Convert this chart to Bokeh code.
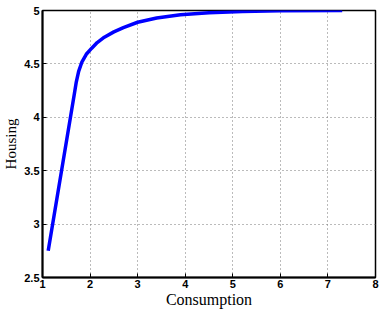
from bokeh.plotting import figure
from bokeh.models import Range1d, FixedTicker
from bokeh.embed import file_html
from bokeh.resources import INLINE

consumption = [1.12, 1.67, 1.71, 1.76, 1.83, 1.92, 2.03, 2.15, 2.3, 2.5, 2.7, 3.0,
               3.4, 3.9, 4.5, 5.2, 6.0, 7.3]
housing = [2.75, 4.22, 4.33, 4.43, 4.52, 4.59, 4.645, 4.70, 4.75, 4.80, 4.84, 4.89,
           4.93, 4.96, 4.98, 4.99, 4.997, 5.0]
x_ticks = [1, 2, 3, 4, 5, 6, 7, 8]
y_ticks = [2.5, 3, 3.5, 4, 4.5, 5]

p = figure(width=380, height=310, output_backend="svg", toolbar_location=None,
           x_range=Range1d(1, 8), y_range=Range1d(2.5, 5),
           min_border_left=34, min_border_right=5, min_border_top=10, min_border_bottom=31)

p.line(consumption, housing, line_color="#0000ff", line_width=3.5)

for ax in (p.xaxis[0], p.yaxis[0]):
    ax.major_tick_in = 4
    ax.major_tick_out = 0
    ax.minor_tick_line_color = None
    ax.axis_line_width = 2
    ax.axis_line_color = "black"
    ax.major_tick_line_color = "black"
    ax.major_tick_line_width = 1
    ax.major_label_text_font = "Liberation Sans"
    ax.major_label_text_font_style = "bold"
    ax.major_label_text_font_size = "11px"
    ax.major_label_text_color = "black"
    ax.axis_label_text_font = "Liberation Serif"
    ax.axis_label_text_font_style = "normal"
    ax.axis_label_text_color = "black"

p.xaxis[0].ticker = FixedTicker(ticks=x_ticks)
p.yaxis[0].ticker = FixedTicker(ticks=y_ticks)
p.xaxis[0].axis_label = "Consumption"
p.yaxis[0].axis_label = "Housing"
p.xaxis[0].axis_label_text_font_size = "16px"
p.yaxis[0].axis_label_text_font_size = "15px"
p.xaxis[0].major_label_standoff = 2
p.yaxis[0].major_label_standoff = 3
p.xaxis[0].axis_label_standoff = 0
p.yaxis[0].axis_label_standoff = 2

p.xgrid.ticker = FixedTicker(ticks=x_ticks)
p.ygrid.ticker = FixedTicker(ticks=y_ticks)
p.grid.grid_line_color = "#777777"
p.grid.grid_line_dash = "1 3"
p.grid.grid_line_width = 1
p.outline_line_color = "black"
p.outline_line_width = 1.5

open("out.html", "w").write(file_html(p, INLINE))
